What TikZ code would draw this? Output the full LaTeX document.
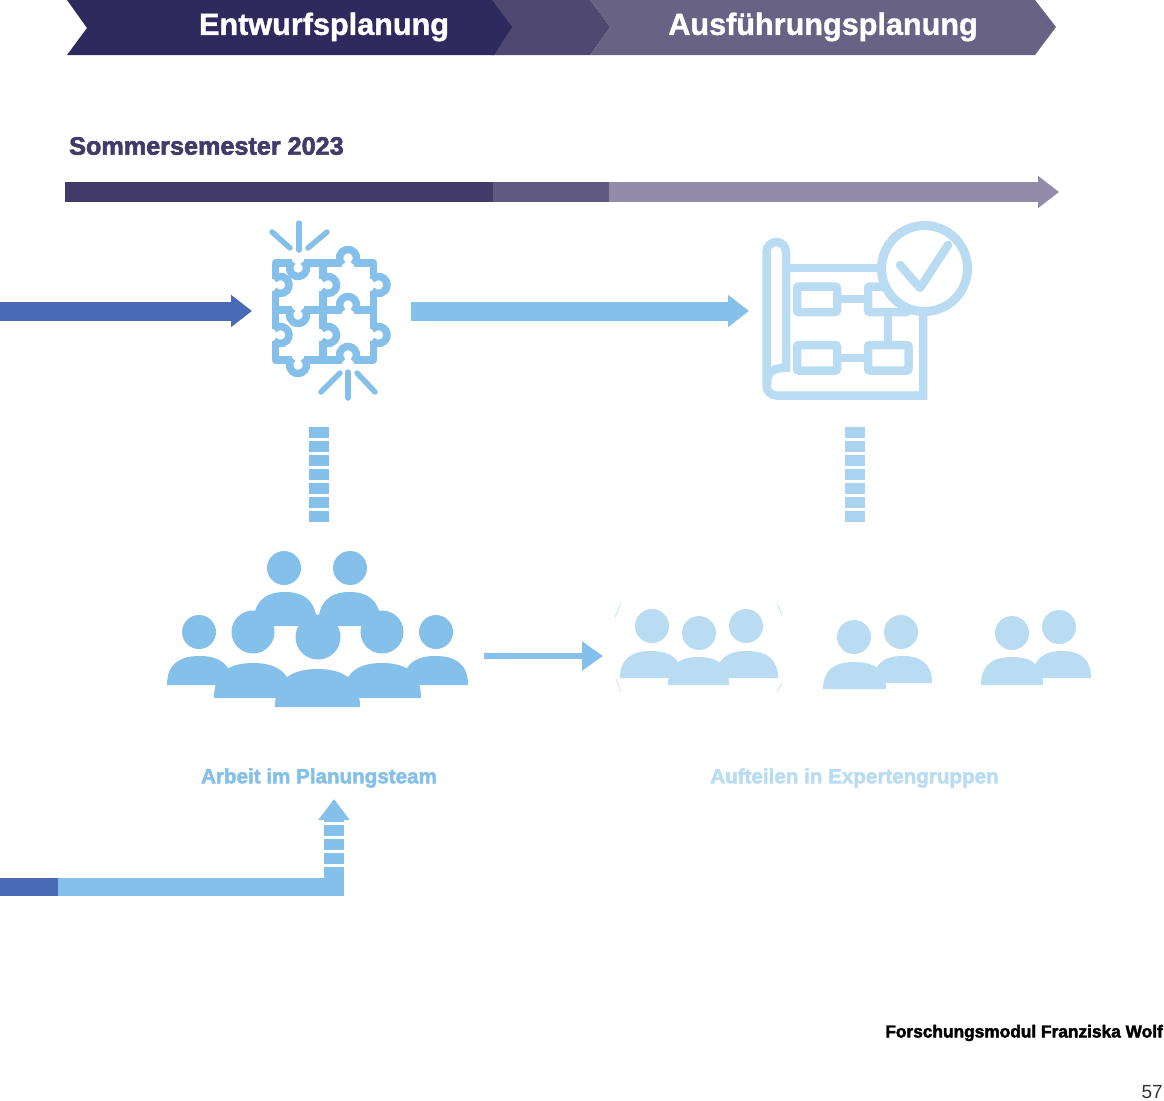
\documentclass[tikz,border=0pt]{standalone}
\usepackage{fontspec}
\setmainfont{Liberation Sans}
\newfontfamily\heavyfont[FakeBold=1.2]{Liberation Sans Bold}
\newfontfamily\blackfont[FakeBold=2.4]{Liberation Sans Bold}
\usetikzlibrary{arrows.meta}
\definecolor{nightblue}{HTML}{2E2A5E}
\definecolor{dusk}{HTML}{4F4870}
\definecolor{haze}{HTML}{686284}
\definecolor{bardark}{HTML}{423A68}
\definecolor{barmid}{HTML}{5F5880}
\definecolor{barpale}{HTML}{928CA8}
\definecolor{royal}{HTML}{4A6AB5}
\definecolor{sky}{HTML}{84C0EA}
\definecolor{pale}{HTML}{B9DCF3}
% bust: left, right, top, bottom
\newcommand{\bust}[4]{
  \fill (#1,-#4) .. controls (#1,-#3*0.7-#4*0.3) and (#1*0.82+#2*0.18,-#3) .. (#1*0.5+#2*0.5,-#3)
    .. controls (#1*0.18+#2*0.82,-#3) and (#2,-#3*0.7-#4*0.3) .. (#2,-#4) -- cycle;
}
\begin{document}
\begin{tikzpicture}[
    x=1pt, y=1pt,
    headline/.style={font=\heavyfont\fontsize{30.6}{36}\selectfont, text=white, inner sep=0pt},
    caption/.style={font=\blackfont\fontsize{20.6}{24}\selectfont, inner sep=0pt},
    fatarr/.style={-{Triangle[length=21pt,width=31pt]}, line width=19pt},
    dotted bar/.style={line width=20pt, sky, dash pattern=on 11pt off 3pt},
    puzzle/.style={sky, line width=7.5pt},
    plan/.style={pale, line width=8.5pt},
  ]
    \useasboundingbox (0,0) rectangle (1164,-1100);

    % banner
    \fill[haze] (590,0) -- (1035,0) -- (1056,-27) -- (1035,-55) -- (590,-55) -- (610,-27) -- cycle;
    \fill[dusk] (492,0) -- (590,0) -- (610,-27) -- (590,-55) -- (492,-55) -- cycle;
    \fill[nightblue] (67,0) -- (492,0) -- (512,-27) -- (494,-55) -- (67,-55) -- (87,-28) -- cycle;
    \node[headline] (entwurf) at (324,-27) {Entwurfsplanung};
    \node[headline] (ausfuehrung) at (823,-27) {Ausführungsplanung};

    % semester bar
    \node[font=\blackfont\fontsize{25.2}{30}\selectfont, text=bardark, inner sep=0pt, anchor=west] (semester) at (69,-146) {Sommersemester 2023};
    \fill[bardark] (65,-182) rectangle (493,-202);
    \fill[barmid] (493,-182) rectangle (609,-202);
    \coordinate (barstart) at (609,-192);
    \coordinate (barend) at (1059,-192);
    \draw[-{Triangle[length=21pt,width=31pt]}, line width=20pt, barpale] (barstart) -- (barend);

    % arrows
    \coordinate (inleft) at (0,-311);
    \coordinate (inpuzzle) at (252,-311);
    \coordinate (outpuzzle) at (411,-311);
    \coordinate (inplan) at (749,-311);
    \draw[fatarr, royal] (inleft) -- (inpuzzle);
    \draw[fatarr, sky] (outpuzzle) -- (inplan);

    % puzzle
    \draw[puzzle, line join=round] (292,-263) -- (275.5,-263) -- (275.5,-279);
    \draw[puzzle] (275.5,-291) -- (275.5,-329);
    \draw[puzzle, line join=round] (275.5,-341) -- (275.5,-360) -- (292,-360);
    \draw[puzzle] (304,-263) -- (342,-263);
    \draw[puzzle, line join=round] (354,-263) -- (373.5,-263) -- (373.5,-279);
    \draw[puzzle] (373.5,-291) -- (373.5,-329);
    \draw[puzzle, line join=round] (373.5,-341) -- (373.5,-360) -- (354,-360);
    \draw[puzzle] (304,-360) -- (342,-360);
    \draw[puzzle] (323,-263) -- (323,-279) (323,-291) -- (323,-329) (323,-341) -- (323,-360);
    \draw[puzzle] (275.5,-310) -- (292,-310) (304,-310) -- (342,-310) (354,-310) -- (373.5,-310);
    \foreach \kx in {298} \foreach \ky in {263,310,360}
      \draw[puzzle] ([shift={(50:8.5)}] \kx,-\ky-5) arc[start angle=50, end angle=-230, radius=8.5];
    \foreach \kx in {348} \foreach \ky in {263,310,360}
      \draw[puzzle] ([shift={(-50:8.5)}] \kx,-\ky+5) arc[start angle=-50, end angle=230, radius=8.5];
    \foreach \kx in {275.5,323,373.5} \foreach \ky in {285,335}
      \draw[puzzle] ([shift={(140:8.5)}] \kx+5,-\ky) arc[start angle=140, end angle=-140, radius=8.5];
    \foreach \xa/\ya/\xb/\yb in {299/223/299/250, 272/232/290/248, 327/232/308/248, 348/372/348/398, 340/373/321/392, 357/373/375/392}
      \draw[sky, line width=5.5pt, line cap=round] (\xa,-\ya) -- (\xb,-\yb);

    % plan
    \draw[plan] (786,-268) -- (890,-268);
    \draw[plan, rounded corners=10pt] (786,-368) -- (786,-242) -- (766.5,-242) -- (766.5,-395.5) [sharp corners] -- (923,-395.5) -- (923,-310);
    \draw[plan] (790,-368) .. controls (772,-367) and (767,-372) .. (767,-384);
    \draw[plan, rounded corners=2pt] (797,-286.5) rectangle (837,-312);
    \draw[plan, rounded corners=2pt] (868,-286.5) rectangle (908,-312);
    \draw[plan, rounded corners=2pt] (797,-345) rectangle (837,-370.5);
    \draw[plan, rounded corners=2pt] (868,-345) rectangle (908.5,-370.5);
    \draw[plan] (837,-299) -- (868,-299) (837,-358) -- (868,-358) (888,-312) -- (888,-345);
    \draw[pale, line width=9pt, fill=white] (924.5,-268.5) circle (43);
    \draw[pale, line width=8.5pt, line cap=round, line join=round] (900,-265) -- (920,-288) -- (948,-245);

    % dashed links
    \coordinate (puzzlefoot) at (319,-427);
    \coordinate (teamtop) at (319,-522);
    \coordinate (planfoot) at (854.5,-427);
    \coordinate (groupstop) at (854.5,-522);
    \draw[dotted bar] (puzzlefoot) -- (teamtop);
    \draw[dotted bar, sky!70!white] (planfoot) -- (groupstop);

    % team
    \begin{scope}[sky]
      \foreach \hx/\hy/\hr in {284/568/17, 350/568/17, 199/632/17, 436/632/17, 253/632/21.5, 382/632/21.5, 318/637/22.5}
        \fill (\hx,-\hy) circle (\hr);
      \bust{253}{317}{592}{626}
      \bust{318}{381}{592}{626}
      \bust{167}{232}{656}{685}
      \bust{403}{468}{656}{685}
      \bust{214}{292}{663}{698}
      \bust{343}{421}{663}{698}
      \bust{275}{360}{669}{707}
    \end{scope}
    \coordinate (teamout) at (484,-656);
    \coordinate (groupsin) at (603,-656);
    \draw[-{Triangle[length=21pt,width=28pt]}, line width=6pt, sky] (teamout) -- (groupsin);

    % expert groups
    \begin{scope}[pale]
      \foreach \hx/\hy in {652/626, 699/633, 746/626, 854/637, 901/632, 1012/633, 1059/627}
        \fill (\hx,-\hy) circle (17);
      \bust{620}{682}{651}{678}
      \bust{716}{778}{651}{678}
      \bust{668}{729}{657}{685}
      \bust{873}{932}{656}{683}
      \bust{823}{886}{662}{689}
      \bust{1033}{1091}{651}{678}
      \bust{981}{1043}{657}{685}
    \end{scope}
    \foreach \xa/\ya/\xb/\yb in {615/617/621/603, 782/615/777/603, 616/679/621/692, 782/683/777/692}
      \draw[pale, line width=0.6pt] (\xa,-\ya) -- (\xb,-\yb);

    % captions
    \node[caption, text=sky] (team) at (319,-778) {Arbeit im Planungsteam};
    \node[caption, text=pale] (groups) at (854.5,-778) {Aufteilen in Expertengruppen};

    % lower route
    \coordinate (lowleft) at (0,-887);
    \coordinate (lowmid) at (58,-887);
    \coordinate (lowcorner) at (344,-887);
    \coordinate (riserfoot) at (334,-896);
    \coordinate (riserkink) at (334,-867);
    \coordinate (dashstart) at (334,-863.5);
    \coordinate (riserend) at (334,-799);
    \draw[royal, line width=18pt] (lowleft) -- (lowmid);
    \draw[sky, line width=18pt] (lowmid) -- (lowcorner);
    \draw[sky, line width=20pt] (riserfoot) -- (riserkink);
    \draw[-{Triangle[length=21pt,width=30pt]}, sky, line width=20pt, dash pattern=on 11pt off 3pt] (dashstart) -- (riserend);

    % footer
    \node[font=\blackfont\fontsize{17.3}{22}\selectfont, anchor=east, inner sep=0pt] (credit) at (1163,-1033) {Forschungsmodul Franziska Wolf};
    \node[font=\fontsize{19}{22}\selectfont, text=black!80, anchor=east, inner sep=0pt] (pagenum) at (1163,-1092) {57};
  \end{tikzpicture}
\end{document}
